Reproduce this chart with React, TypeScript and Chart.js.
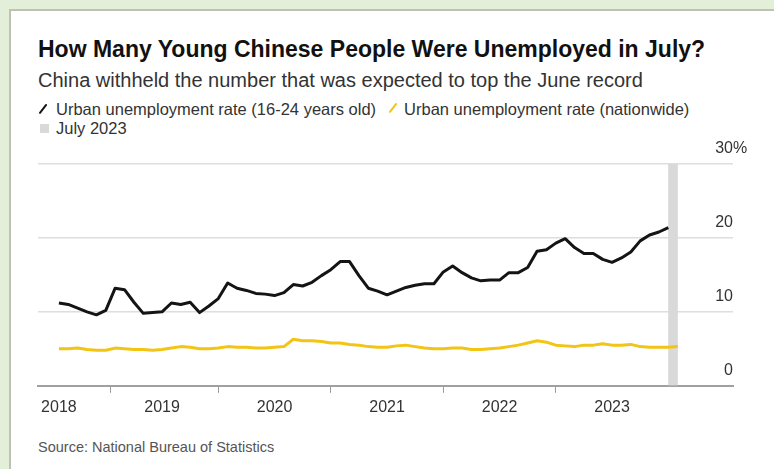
import { useEffect, useRef } from 'react';
import { Chart, registerables } from 'chart.js';

Chart.register(...registerables);

const titleText = 'How Many Young Chinese People Were Unemployed in July?';
const subtitleText = 'China withheld the number that was expected to top the June record';
const youthLabel = 'Urban unemployment rate (16-24 years old)';
const nationalLabel = 'Urban unemployment rate (nationwide)';
const highlightLabel = 'July 2023';
const sourceText = 'Source: National Bureau of Statistics';

// Year tick labels and the month index (months counted from Jan 2018 = 1, plotted at month end) they sit on
const yearLabels = ['2018', '2019', '2020', '2021', '2022', '2023'];
const yearTickMonths = [1, 12, 24, 36, 48, 60];

// Urban unemployment rate, 16-24 years old, Jan 2018 - Jun 2023 (%)
const youthRate = [
  11.2, 11.0, 10.5, 10.0, 9.6, 10.2, 13.2, 13.0, 11.3, 9.8, 9.9, 10.0,
  11.2, 11.0, 11.3, 9.9, 10.8, 11.8, 13.9, 13.2, 12.9, 12.5, 12.4, 12.2,
  12.6, 13.7, 13.5, 14.0, 14.9, 15.7, 16.8, 16.8, 14.9, 13.2, 12.8, 12.3,
  12.8, 13.3, 13.6, 13.8, 13.8, 15.4, 16.2, 15.3, 14.6, 14.2, 14.3, 14.3,
  15.3, 15.3, 16.0, 18.2, 18.4, 19.3, 19.9, 18.7, 17.9, 17.9, 17.1, 16.7,
  17.3, 18.1, 19.6, 20.4, 20.8, 21.4,
];

// Urban unemployment rate, nationwide, Jan 2018 - Jul 2023 (%)
const nationalRate = [
  5.0, 5.0, 5.1, 4.9, 4.8, 4.8, 5.1, 5.0, 4.9, 4.9, 4.8, 4.9,
  5.1, 5.3, 5.2, 5.0, 5.0, 5.1, 5.3, 5.2, 5.2, 5.1, 5.1, 5.2,
  5.3, 6.3, 6.1, 6.1, 6.0, 5.8, 5.8, 5.6, 5.5, 5.3, 5.2, 5.2,
  5.4, 5.5, 5.3, 5.1, 5.0, 5.0, 5.1, 5.1, 4.9, 4.9, 5.0, 5.1,
  5.3, 5.5, 5.8, 6.1, 5.9, 5.5, 5.4, 5.3, 5.5, 5.5, 5.7, 5.5,
  5.5, 5.6, 5.3, 5.2, 5.2, 5.2, 5.3,
];

// Highlighted month (July 2023) as month index, and the y tick values
const highlightMonth = 67;
const highlightTop = 30;
const yTicks = [0, 10, 20, 30];

const FONT = '"Liberation Sans", Arial, Helvetica, sans-serif';

const percentPlugin = {
  id: 'percentSuffix',
  afterDraw(chart: any) {
    const { ctx, chartArea, scales } = chart;
    const top = yTicks[yTicks.length - 1];
    const y = scales.y.getPixelForValue(top) - 15;
    ctx.save();
    ctx.font = `16px ${FONT}`;
    ctx.fillStyle = '#333333';
    ctx.textAlign = 'left';
    ctx.textBaseline = 'middle';
    ctx.fillText('%', chartArea.right, y);
    ctx.restore();
  },
};

function Slash({ color }: { color: string }) {
  return (
    <span style={{ display: 'inline-block', position: 'relative', width: 10, height: 14 }}>
      <span
        style={{
          position: 'absolute',
          left: 4,
          top: 1,
          width: 2.4,
          height: 12,
          background: color,
          transform: 'rotate(38deg)',
          borderRadius: 1,
        }}
      />
    </span>
  );
}

export default function App() {
  const canvasRef = useRef<HTMLCanvasElement | null>(null);

  useEffect(() => {
    if (!canvasRef.current) return;
    const chart = new Chart(canvasRef.current, {
      type: 'line',
      data: {
        datasets: [
          {
            type: 'line',
            label: youthLabel,
            data: youthRate.map((v, i) => ({ x: i + 1, y: v })),
            borderColor: '#141414',
            borderWidth: 3,
            pointRadius: 0,
            tension: 0,
            borderJoinStyle: 'round',
            order: 1,
          },
          {
            type: 'line',
            label: nationalLabel,
            data: nationalRate.map((v, i) => ({ x: i + 1, y: v })),
            borderColor: '#f2c414',
            borderWidth: 3,
            pointRadius: 0,
            tension: 0,
            borderJoinStyle: 'round',
            order: 2,
          },
          {
            type: 'bar',
            label: highlightLabel,
            data: [{ x: highlightMonth - 0.5, y: highlightTop }],
            backgroundColor: '#d9d9d9',
            borderWidth: 0,
            barThickness: 9,
            grouped: false,
            order: 3,
          } as any,
        ],
      },
      options: {
        animation: false,
        responsive: false,
        maintainAspectRatio: false,
        events: [],
        layout: { padding: { left: 38, right: 41, top: 164, bottom: 47 } },
        plugins: { legend: { display: false }, tooltip: { enabled: false } },
        scales: {
          x: {
            type: 'linear',
            min: -1.23,
            max: 72.9,
            offset: false,
            afterBuildTicks: (scale: any) => {
              scale.ticks = yearTickMonths.map((v) => ({ value: v }));
            },
            ticks: {
              autoSkip: false,
              maxRotation: 0,
              padding: 5,
              color: '#333333',
              font: { family: FONT, size: 16 },
              callback: (_v: any, i: number) => yearLabels[i],
            },
            grid: {
              drawOnChartArea: false,
              drawTicks: true,
              tickLength: 7,
              color: (c: any) => (c.tick && yearTickMonths.includes(c.tick.value) ? '#9a9a9a' : 'rgba(0,0,0,0)'),
              lineWidth: 1,
            },
            border: { display: true, color: '#a0a0a0', width: 2 },
          },
          y: {
            position: 'right',
            min: 0,
            max: 30,
            afterBuildTicks: (scale: any) => {
              scale.ticks = yTicks.map((v) => ({ value: v }));
            },
            ticks: {
              mirror: true,
              padding: 0,
              labelOffset: -15,
              color: '#333333',
              font: { family: FONT, size: 16 },
              callback: (v: any) => String(v),
            },
            grid: {
              drawTicks: false,
              color: (c: any) => (c.tick && c.tick.value === 0 ? 'rgba(0,0,0,0)' : '#dedede'),
              lineWidth: 1.5,
            },
            border: { display: false },
          },
        },
      },
      plugins: [percentPlugin],
    } as any);
    return () => chart.destroy();
  }, []);

  const textBase: any = { position: 'absolute', left: 38, whiteSpace: 'nowrap', lineHeight: 1, fontFamily: FONT };

  return (
    <div style={{ position: 'fixed', left: 0, top: 0, width: 774, height: 469, background: '#e3efd9', overflow: 'hidden' }}>
      <div
        style={{
          position: 'absolute',
          left: 9,
          top: 9,
          right: 0,
          bottom: 0,
          background: '#ffffff',
          borderTop: '2px solid #bcc2b6',
          borderLeft: '2px solid #bcc2b6',
        }}
      />
      <div style={{ ...textBase, top: 38, fontSize: 23, fontWeight: 700, color: '#111111' }}>{titleText}</div>
      <div style={{ ...textBase, top: 70, fontSize: 20, color: '#333333' }}>{subtitleText}</div>
      <div style={{ ...textBase, top: 101, fontSize: 16.5, color: '#333333', display: 'flex', alignItems: 'center' }}>
        <Slash color="#141414" />
        <span style={{ marginLeft: 8 }}>{youthLabel}</span>
        <span style={{ marginLeft: 12 }}><Slash color="#f2c414" /></span>
        <span style={{ marginLeft: 6 }}>{nationalLabel}</span>
      </div>
      <div style={{ ...textBase, top: 120, fontSize: 16.5, color: '#333333', display: 'flex', alignItems: 'center' }}>
        <span style={{ display: 'inline-block', width: 9, height: 9, background: '#d9d9d9', marginLeft: 2 }} />
        <span style={{ marginLeft: 7 }}>{highlightLabel}</span>
      </div>
      <div style={{ ...textBase, top: 440, fontSize: 14.5, color: '#555555' }}>{sourceText}</div>
      <canvas ref={canvasRef} width={774} height={469} style={{ position: 'absolute', left: 0, top: 0, width: 774, height: 469 }} />
    </div>
  );
}
